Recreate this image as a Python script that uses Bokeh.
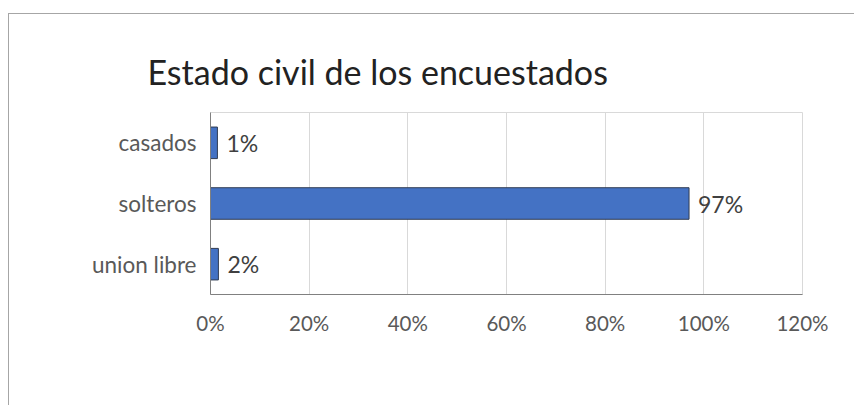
from bokeh.plotting import figure
from bokeh.models import Range1d, FactorRange, NumeralTickFormatter, ColumnDataSource, FixedTicker
from bokeh.core.properties import value
from bokeh.embed import file_html
from bokeh.resources import INLINE

categories = ["casados", "solteros", "union libre"]
values = [0.014, 0.97, 0.016]
x_ticks = [0, 0.2, 0.4, 0.6, 0.8, 1.0, 1.2]
title_text = "Estado civil de los encuestados"

FONT = "Lato"

labels = [f"{round(v*100):.0f}%" for v in values]
src = ColumnDataSource(dict(cat=categories, val=values, lab=labels))

p = figure(
    y_range=FactorRange(factors=list(reversed(categories))),
    x_range=Range1d(0, 1.2),
    frame_width=592, frame_height=182,
    min_border_left=201, min_border_right=52,
    min_border_top=98, min_border_bottom=111,
    output_backend="svg", toolbar_location=None,
)
p.margin = (13, 0, 0, 8)
p.styles = {"border-left": "1px solid #a6a6a6", "border-top": "1px solid #a6a6a6"}

p.hbar(y="cat", right="val", left=0, height=0.52, source=src,
       fill_color="#4472C4", line_color="#2F3B52", line_width=1)

p.text(x="val", y="cat", text="lab", source=src, x_offset=9,
       text_baseline="middle", text_align="left",
       text_font=value(FONT), text_font_size="23px", text_color="#404040")

p.title.text = title_text
p.title.text_font = FONT
p.title.text_font_size = "34px"
p.title.text_font_style = "normal"
p.title.text_color = "#222222"
p.title.align = "left"
p.title.offset = -63
p.title.padding = (0, 0, 0, 16)

p.outline_line_color = "#d9d9d9"
p.ygrid.grid_line_color = None
p.xgrid.grid_line_color = "#d9d9d9"
p.xaxis.ticker = FixedTicker(ticks=x_ticks)
p.xaxis.formatter = NumeralTickFormatter(format="0%")

for ax in (p.xaxis[0], p.yaxis[0]):
    ax.axis_line_color = "#808080"
    ax.major_tick_line_color = None
    ax.minor_tick_line_color = None
    ax.major_label_text_font = FONT
    ax.major_label_text_color = "#595959"
p.xaxis.major_label_text_font_size = "20.5px"
p.yaxis.major_label_text_font_size = "22.5px"
p.xaxis.major_label_standoff = 10
p.yaxis.major_label_standoff = 8

open("out.html", "w").write(file_html(p, INLINE))
